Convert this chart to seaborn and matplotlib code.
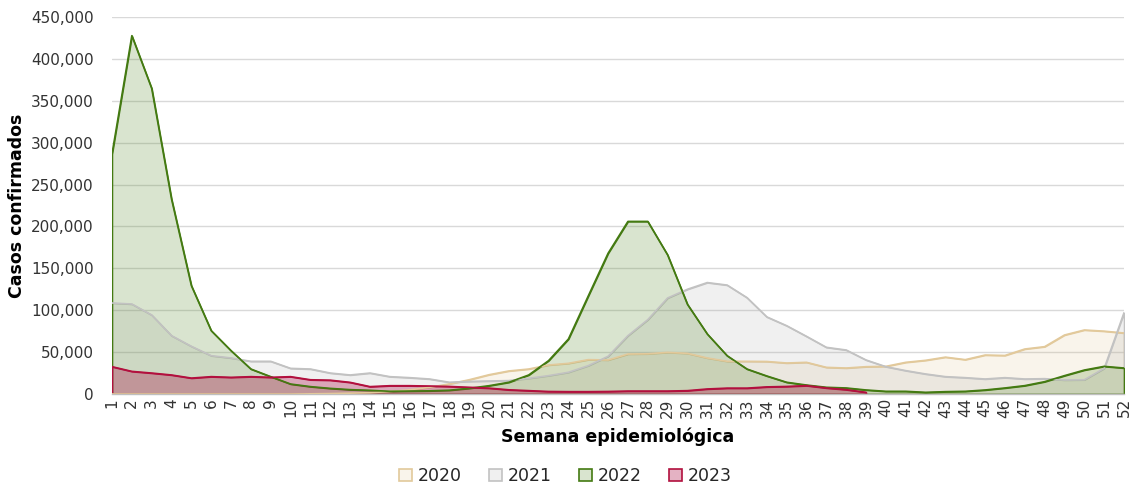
import numpy as np
import pandas as pd
import matplotlib
matplotlib.use("Agg")
import matplotlib.pyplot as plt
from matplotlib.patches import Patch
from matplotlib.ticker import FuncFormatter
import seaborn as sns

weeks = list(range(1, 53))

casos_2020 = [0, 0, 0, 0, 0, 0, 0, 0, 0, 0,
              200, 500, 1000, 1500, 3000, 5000, 8000, 12000, 17000, 23000,
              27500, 29800, 34600, 36600, 41000, 40600, 47700, 48000, 49700, 48500,
              43000, 39000, 39000, 38800, 37000, 37800, 31800, 31000, 32600, 33000,
              37800, 40200, 44000, 41000, 46500, 46000, 53700, 56500, 70400, 76400,
              75000, 72800]

casos_2021 = [108600, 107400, 94300, 69600, 56900, 45700, 43000, 39000, 39000, 30600,
              29800, 25000, 22700, 25000, 20700, 19500, 17900, 14000, 15000, 15500,
              16000, 18700, 21900, 25900, 33800, 45000, 69600, 88700, 114600, 125000,
              133000, 130000, 115000, 92000, 81500, 68800, 55700, 52500, 40600, 32600,
              27900, 23900, 20700, 19500, 17900, 19500, 17900, 18300, 16700, 17000,
              30600, 97000]

casos_2022 = [286500, 427700, 364800, 232700, 129300, 75600, 51700, 29800, 20700, 11900,
              8800, 6700, 5200, 4400, 3200, 3500, 3800, 4500, 6800, 9900,
              14000, 22700, 39800, 65600, 117000, 168000, 206000, 206000, 166000, 107000,
              71600, 45700, 29800, 21500, 14000, 10700, 8000, 7200, 4800, 3200,
              3200, 2000, 2800, 3200, 4800, 7200, 10000, 14700, 21900, 28600,
              33000, 31000]

casos_2023 = [32600, 27000, 25000, 22700, 19000, 20700, 19900, 20700, 19900, 20700,
              17000, 16500, 13900, 8800, 9900, 9900, 9500, 9000, 8000, 7000,
              5000, 4000, 3000, 2800, 2800, 3000, 3500, 3500, 3500, 4000,
              6000, 7000, 7000, 8500, 9000, 10000, 7200, 5200, 2000]

years = ["2020", "2021", "2022", "2023"]
series = [casos_2020, casos_2021, casos_2022, casos_2023]

line_colors = {"2020": "#e2c99b", "2021": "#c2c2c2", "2022": "#447a12", "2023": "#b2103e"}
fill_colors = {"2020": (0.85, 0.72, 0.48, 0.15),
               "2021": (0.66, 0.66, 0.66, 0.17),
               "2022": (0.33, 0.53, 0.15, 0.22),
               "2023": (0.66, 0.0, 0.23, 0.30)}

rows = []
for y, vals in zip(years, series):
    for w, v in zip(weeks, vals):
        rows.append({"Semana": w, "Casos": v, "Año": y})
df = pd.DataFrame(rows)

sns.set_theme(style="white")
plt.rcParams['font.family'] = ['DejaVu Sans']

fig = plt.figure(figsize=(11.31, 4.87), dpi=100)
ax = fig.add_axes([112/1131, 1-394/487, (1124-112)/1131, (394-17)/487])

for y in years:
    d = df[df["Año"] == y]
    ax.fill_between(d["Semana"], 0, d["Casos"], facecolor=fill_colors[y],
                    edgecolor=line_colors[y], linewidth=1.1, zorder=2)
    sns.lineplot(data=d, x="Semana", y="Casos", color=line_colors[y],
                 linewidth=1.2, ax=ax, zorder=3, legend=False)

ax.set_xlim(1, 52)
ax.set_ylim(0, 450000)
ax.set_yticks(np.arange(0, 450001, 50000))
ax.yaxis.set_major_formatter(FuncFormatter(lambda v, p: f"{int(v):,}"))
ax.set_xticks(weeks)
ax.set_xticklabels([str(w) for w in weeks], rotation=90)
ax.tick_params(axis="x", labelsize=11, colors="#333333", length=0, pad=3)
ax.tick_params(axis="y", labelsize=11, colors="#333333", length=0, pad=13)
ax.grid(axis="y", color="#d9d9d9", linewidth=1, zorder=0)
ax.set_axisbelow(True)
for s in ["top", "right", "left"]:
    ax.spines[s].set_visible(False)
ax.spines["bottom"].set_color("#bfbfbf")
ax.spines["bottom"].set_linewidth(1)

ax.set_xlabel("Semana epidemiológica", fontsize=12.5, fontweight="bold", color="black", labelpad=7)
ax.set_ylabel("Casos confirmados", fontsize=12.5, fontweight="bold", color="black")
ax.yaxis.set_label_coords((26 - 112) / 1012, 0.5)

handles = [Patch(facecolor=fill_colors[y], edgecolor=line_colors[y], linewidth=1.2, label=y) for y in years]
fig.legend(handles=handles, loc="center", bbox_to_anchor=(0.5, 1-476/487), ncol=4,
           frameon=False, fontsize=12.5, handlelength=0.75, handleheight=0.75,
           handletextpad=0.3, columnspacing=1.6)

fig.savefig("out.png", dpi=100)
